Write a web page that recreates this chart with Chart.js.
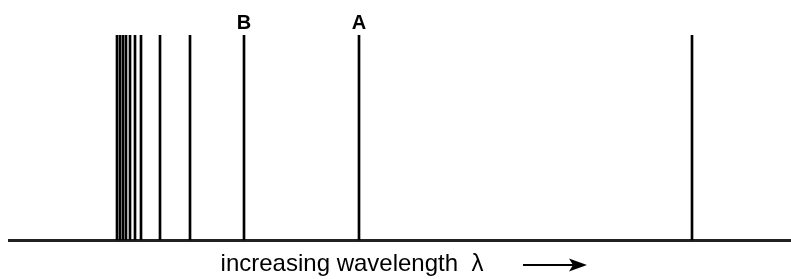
<!DOCTYPE html>
<html>
<head>
<meta charset="utf-8">
<script src="https://cdn.jsdelivr.net/npm/chart.js@4.4.0/dist/chart.umd.min.js"></script>
<style>
  html, body { margin: 0; padding: 0; background: #fff; }
  #wrap { width: 791px; height: 279px; }
</style>
</head>
<body>
<div id="wrap"><canvas id="espectro"></canvas></div>
<script>
// Posições das linhas espectrais (unidades relativas de comprimento de onda)
const linhas = [117, 120, 123, 126, 130, 135, 141, 160, 190, 244, 359, 692];
const intensidades = [1, 1, 1, 1, 1, 1, 1, 1, 1, 1, 1, 1];
// Linhas marcadas no topo
const marcas = [244, 359];
const marcaRotulos = ['B', 'A'];
const tituloEixo = 'increasing wavelength  λ';

const fonte = 'Liberation Sans, Arial, sans-serif';

// Seta desenhada à direita do título do eixo
const seta = {
  id: 'seta',
  afterDraw(chart) {
    const c = chart.ctx;
    const meio = (chart.chartArea.left + chart.chartArea.right) / 2;
    const y = 265;
    const x0 = meio + 123, x1 = meio + 187;
    c.save();
    c.strokeStyle = '#000';
    c.fillStyle = '#000';
    c.lineWidth = 2;
    c.beginPath();
    c.moveTo(x0, y);
    c.lineTo(x1 - 12, y);
    c.stroke();
    c.beginPath();
    c.moveTo(x1, y);
    c.lineTo(x1 - 18, y - 6.5);
    c.lineTo(x1 - 14, y);
    c.lineTo(x1 - 18, y + 6.5);
    c.closePath();
    c.fill();
    c.restore();
  }
};

const ctx = document.getElementById('espectro').getContext('2d');
new Chart(ctx, {
  type: 'bar',
  data: {
    datasets: [{
      data: linhas.map((x, i) => ({ x: x, y: intensidades[i] })),
      backgroundColor: '#000',
      borderWidth: 0,
      barThickness: 2,
    }]
  },
  options: {
    responsive: true,
    maintainAspectRatio: false,
    animation: false,
    layout: { padding: { left: 9, right: 0, top: 11, bottom: 0 } },
    plugins: { legend: { display: false }, tooltip: { enabled: false } },
    scales: {
      x: {
        type: 'linear',
        position: 'bottom',
        min: 9, max: 791,
        offset: false,
        grid: { display: false, drawTicks: false },
        border: { display: true, color: '#222', width: 3 },
        ticks: { display: false },
        title: {
          display: true,
          text: tituloEixo + '\u2003\u2003\u2003\u2003',
          color: '#000',
          font: { family: fonte, size: 24 },
          padding: { top: 10, bottom: 0 }
        }
      },
      topo: {
        type: 'linear',
        position: 'top',
        axis: 'x',
        min: 9, max: 791,
        offset: false,
        grid: { display: false, drawTicks: false },
        border: { display: false },
        afterBuildTicks: (eixo) => { eixo.ticks = marcas.map(v => ({ value: v })); },
        ticks: {
          autoSkip: false,
          maxRotation: 0,
          padding: 0,
          color: '#000',
          font: { family: fonte, size: 20, weight: 'bold' },
          callback: (v) => marcaRotulos[marcas.indexOf(v)]
        }
      },
      y: {
        display: false,
        min: 0, max: 1
      }
    }
  },
  plugins: [seta]
});
</script>
</body>
</html>
